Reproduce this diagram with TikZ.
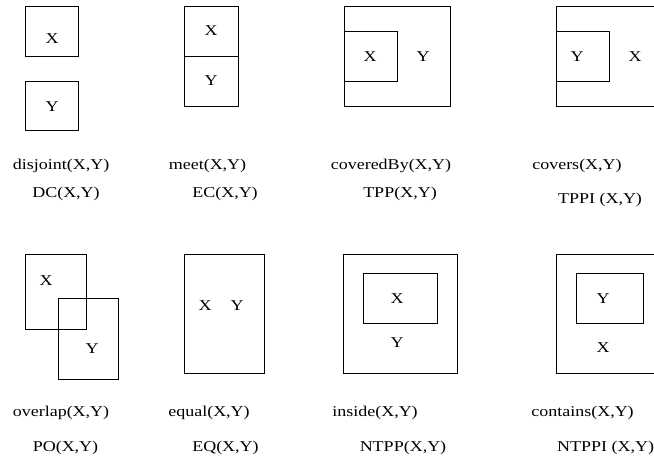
\documentclass[tikz,border=0pt]{standalone}
\usepackage{fontspec}
\setmainfont[FakeStretch=1.2]{Liberation Serif}
\begin{document}
\begin{tikzpicture}[x=1pt,y=-1pt,
  box/.style={draw, line width=0.8pt, rectangle, inner sep=0pt},
  lab/.style={font=\fontsize{15}{18}\selectfont, inner sep=0pt},
  captxt/.style={font=\fontsize{15}{18}\selectfont, inner sep=0pt}]
\useasboundingbox (0,0) rectangle (654,461);
\clip (0,0) rectangle (654,461);
% disjoint
\node[box, minimum width=53pt, minimum height=50pt] (dcx) at (51.5,31) {};
\node[box, minimum width=53pt, minimum height=49pt] (dcy) at (51.5,105.5) {};
\node[lab] (dcxl) at (52,39) {X};
\node[lab] (dcyl) at (52,107) {Y};
\node[captxt] (dc1) at (61,166) {disjoint(X,Y)};
\node[captxt] (dc2) at (66,194) {DC(X,Y)};
% meet
\node[box, minimum width=54pt, minimum height=50pt] (ecx) at (211,31) {};
\node[box, minimum width=54pt, minimum height=50pt] (ecy) at (211,81) {};
\node[lab] (ecxl) at (211,31) {X};
\node[lab] (ecyl) at (211,81) {Y};
\node[captxt] (ec1) at (207.5,166) {meet(X,Y)};
\node[captxt] (ec2) at (225,194) {EC(X,Y)};
% coveredBy
\node[box, minimum width=106pt, minimum height=100pt] (tppo) at (397,56) {};
\node[box, minimum width=53pt, minimum height=50pt] (tppi) at (370.5,56) {};
\node[lab] (tppxl) at (370,57) {X};
\node[lab] (tppyl) at (423,57) {Y};
\node[captxt] (tpp1) at (391,166) {coveredBy(X,Y)};
\node[captxt] (tpp2) at (400,194) {TPP(X,Y)};
% covers
\node[box, minimum width=106pt, minimum height=100pt] (tpio) at (609,56) {};
\node[box, minimum width=53pt, minimum height=50pt] (tpii) at (582.5,56) {};
\node[lab] (tpiyl) at (577,57) {Y};
\node[lab] (tpixl) at (635,57) {X};
\node[captxt] (tpi1) at (577,166) {covers(X,Y)};
\node[captxt] (tpi2) at (600,200) {TPPI (X,Y)};
% overlap
\node[box, minimum width=61pt, minimum height=75pt] (pox) at (55.5,291.5) {};
\node[box, minimum width=60pt, minimum height=81pt] (poy) at (88,338.5) {};
\node[lab] (poxl) at (46,281) {X};
\node[lab] (poyl) at (92,349) {Y};
\node[captxt] (po1) at (61,413) {overlap(X,Y)};
\node[captxt] (po2) at (65.5,448) {PO(X,Y)};
% equal
\node[box, minimum width=80pt, minimum height=119pt] (eq) at (224,313.5) {};
\node[lab] (eqxl) at (205,306) {X};
\node[lab] (eqyl) at (237,306) {Y};
\node[captxt] (eq1) at (209,413) {equal(X,Y)};
\node[captxt] (eq2) at (225.5,448) {EQ(X,Y)};
% inside
\node[box, minimum width=114pt, minimum height=119pt] (ntppo) at (400,313.5) {};
\node[box, minimum width=74pt, minimum height=50pt] (ntppi) at (400,298) {};
\node[lab] (ntppxl) at (397,299) {X};
\node[lab] (ntppyl) at (397,343) {Y};
\node[captxt] (ntpp1) at (375,413) {inside(X,Y)};
\node[captxt] (ntpp2) at (403,448) {NTPP(X,Y)};
% contains
\node[box, minimum width=114pt, minimum height=119pt] (ntpio) at (613,313.5) {};
\node[box, minimum width=67pt, minimum height=50pt] (ntpii) at (609.5,298) {};
\node[lab] (ntpiyl) at (603,299) {Y};
\node[lab] (ntpixl) at (603,348) {X};
\node[captxt] (ntpi1) at (582.5,413) {contains(X,Y)};
\node[captxt, anchor=west] (ntpi2) at (557,448) {NTPPI (X,Y)};
\end{tikzpicture}
\end{document}
